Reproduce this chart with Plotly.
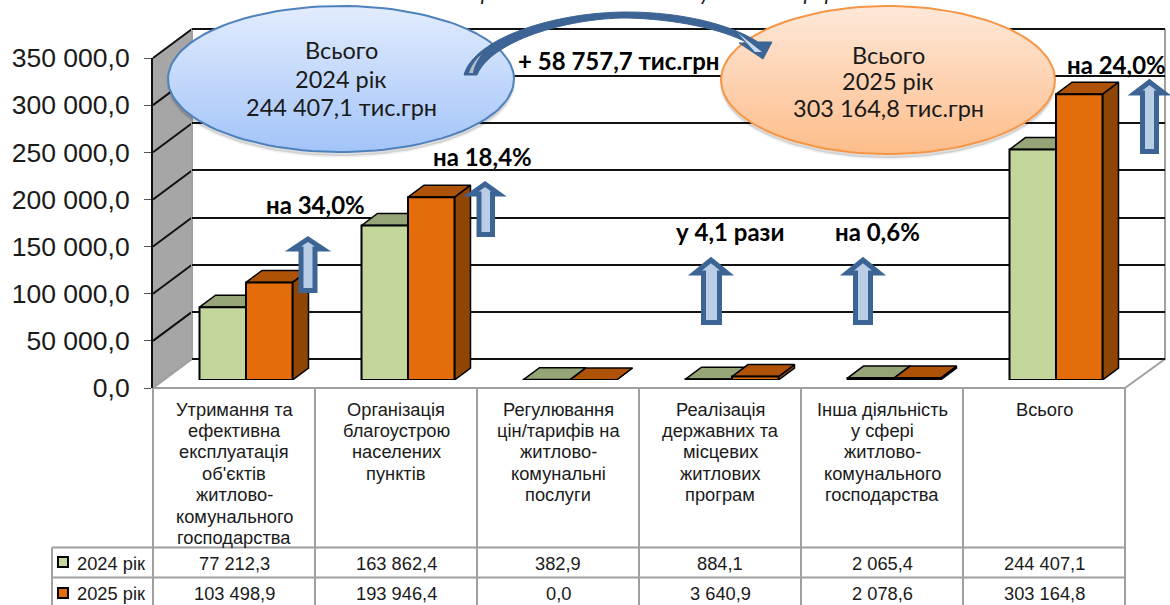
"""Spending by housing programme, 2024 vs 2025: pseudo-3D bars with data table."""

import numpy as np
import plotly.graph_objects as go

WIDTH = 1170
HEIGHT = 605

CATEGORY_LINES = [
    ["Утримання та", "ефективна", "експлуатація", "об'єктів", "житлово-", "комунального", "господарства"],
    ["Організація", "благоустрою", "населених", "пунктів"],
    ["Регулювання", "цін/тарифів на", "житлово-", "комунальні", "послуги"],
    ["Реалізація", "державних та", "місцевих", "житлових", "програм"],
    ["Інша діяльність", "у сфері", "житлово-", "комунального", "господарства"],
    ["Всього"],
]
SERIES_NAMES = ["2024 рік", "2025 рік"]
VALUES_2024 = [77212.3, 163862.4, 382.9, 884.1, 2065.4, 244407.1]
VALUES_2025 = [103498.9, 193946.4, 0.0, 3640.9, 2078.6, 303164.8]
TICK_VALUES = [0, 50000, 100000, 150000, 200000, 250000, 300000, 350000]
Y_MAX = 350000
GROWTH_LABELS = ["на 34,0%", "на 18,4%", "у 4,1 рази", "на 0,6%", "на 24,0%"]
CALLOUT_2024 = ["Всього", "2024 рік", "244 407,1 тис.грн"]
CALLOUT_2025 = ["Всього", "2025 рік", "303 164,8 тис.грн"]

SANS = "Liberation Sans"
CALIBRI_LIKE = "Lato, Open Sans, sans-serif"
BAR_W = 46.5 / 162  # in category units
DEPTH_X = 16 / 162
DEPTH_Y = 12 * Y_MAX / 330
GRID_PAD = 2 * Y_MAX / 330  # plotly drops gridlines within 1px of the axis ends
COL_X = [153, 315, 477, 639, 801, 963, 1125]


def fmt(v):
    return f"{v:,.1f}".replace(",", " ").replace(".", ",")


def x_dom(left, right):
    return [left / WIDTH, right / WIDTH]


def y_dom(bottom, top):
    return [1 - bottom / HEIGHT, 1 - top / HEIGHT]


def px(x, y, text, size=18.3, family=SANS, color="#1a1a1a", bold=False, xanchor="center", italic=False):
    if bold:
        text = f"<b>{text}</b>"
    if italic:
        text = f"<i>{text}</i>"
    return dict(
        x=x / WIDTH, y=1 - y / HEIGHT, xref="paper", yref="paper", text=text,
        showarrow=False, xanchor=xanchor, yanchor="middle",
        font=dict(size=size, family=family, color=color),
    )


def ellipse(cx, cy, rx, ry):
    t = np.linspace(0, 2 * np.pi, 120)
    return (cx + rx * np.cos(t)).tolist(), (cy + ry * np.sin(t)).tolist()


def block_arrow(left, right, shaft_l, shaft_r, tip, base, bottom):
    # outer extents come in; the 5px stroke is centred, so pull the path inwards
    mid = (left + right) / 2
    left, right = left + 5, right - 5
    shaft_l, shaft_r = shaft_l + 2.5, shaft_r - 2.5
    tip, base, bottom = tip + 7, base - 2, bottom - 2.5
    path = (
        f"M {mid},{tip} L {right},{base} L {shaft_r},{base} L {shaft_r},{bottom} "
        f"L {shaft_l},{bottom} L {shaft_l},{base} L {left},{base} Z"
    )
    return dict(
        type="path", path=path, xref="x6", yref="y6", layer="above",
        fillcolor="#b9cde5", line=dict(color="#3c6494", width=5),
    )


fig = go.Figure()

# ---- wall, floor and table lines, in page pixels ----
fig.add_trace(go.Scatter(
    x=[153, 192, 192, 153, 153], y=[388, 359, 29, 58, 388], mode="lines",
    fill="toself", fillcolor="#a6a6a6", line=dict(color="#a6a6a6", width=1),
    xaxis="x", yaxis="y", hoverinfo="skip",
))
slant_x, slant_y = [], []
for v in TICK_VALUES[1:]:
    y0 = 388 - v * 330 / Y_MAX
    slant_x += [153, 192, None]
    slant_y += [y0, y0 - 29, None]
fig.add_trace(go.Scatter(
    x=slant_x, y=slant_y, mode="lines", line=dict(color="#111111", width=2),
    xaxis="x", yaxis="y", hoverinfo="skip",
))
fig.add_trace(go.Scatter(
    x=[153, 192, None, 1125, 1165, 1165, None, 192, 192],
    y=[388, 359, None, 388, 359, 29, None, 359, 29], mode="lines",
    line=dict(color="#a0a0a0", width=2), xaxis="x", yaxis="y", hoverinfo="skip",
))
table_x, table_y = [], []
for col in COL_X:
    table_x += [col, col, None]
    table_y += [388, 605, None]
for left, row in [(153, 388), (52, 547.5), (52, 577.5)]:
    table_x += [left, 1125, None]
    table_y += [row, row, None]
table_x += [52, 52, None]
table_y += [547.5, 605, None]
fig.add_trace(go.Scatter(
    x=table_x, y=table_y, mode="lines", line=dict(color="#a0a0a0", width=2),
    xaxis="x", yaxis="y", hoverinfo="skip",
))

# ---- back wall gridlines and the value axis ----
fig.add_trace(go.Scatter(x=[], y=[], xaxis="x2", yaxis="y2"))
fig.add_trace(go.Scatter(x=[], y=[], xaxis="x3", yaxis="y3"))

# ---- side and top faces of the bars, then the fronts ----
positions = list(range(len(VALUES_2024)))
for values, offset, top_colour, side_colour in [
    (VALUES_2024, -BAR_W, "#95a578", "#7f8e62"),
    (VALUES_2025, 0.0, "#ad5207", "#8f4504"),
]:
    for i, v in zip(positions, values):
        x0, x1 = i + offset, i + offset + BAR_W
        fig.add_trace(go.Scatter(
            x=[x1, x1 + DEPTH_X, x1 + DEPTH_X, x1, x1],
            y=[0, DEPTH_Y, v + DEPTH_Y, v, 0],
            mode="lines", fill="toself", fillcolor=side_colour,
            line=dict(color="#000000", width=1.5),
            xaxis="x4", yaxis="y4", hoverinfo="skip",
        ))
        fig.add_trace(go.Scatter(
            x=[x0, x1, x1 + DEPTH_X, x0 + DEPTH_X, x0],
            y=[v, v, v + DEPTH_Y, v + DEPTH_Y, v],
            mode="lines", fill="toself", fillcolor=top_colour,
            line=dict(color="#000000", width=1.5),
            xaxis="x4", yaxis="y4", hoverinfo="skip",
        ))

for name, values, offset, colour in [
    (SERIES_NAMES[0], VALUES_2024, -BAR_W, "#c3d69b"),
    (SERIES_NAMES[1], VALUES_2025, 0.0, "#e46c0a"),
]:
    fig.add_trace(go.Bar(
        x=positions, y=values, name=name, width=BAR_W, offset=offset,
        marker=dict(color=colour, line=dict(color="#000000", width=2)),
        xaxis="x5", yaxis="y5",
    ))

# ---- the two callout ellipses ----
for cx, cy, rx, ry, stroke, top, bottom in [
    (341, 79, 173, 73, "#4f81bd", "#e2ecfd", "#a3c4f9"),
    (888, 80, 167, 74, "#f79646", "#fee8d9", "#fdbd8a"),
]:
    sx, sy = ellipse(cx, cy + 4, rx, ry)
    fig.add_trace(go.Scatter(
        x=sx, y=sy, mode="lines", fill="toself", fillcolor="rgba(0,0,0,0.13)",
        line=dict(color="rgba(0,0,0,0.06)", width=3), xaxis="x6", yaxis="y6", hoverinfo="skip",
    ))
    ex, ey = ellipse(cx, cy, rx, ry)
    fig.add_trace(go.Scatter(
        x=ex, y=ey, mode="lines", fill="toself",
        fillgradient=dict(type="vertical", colorscale=[[0, bottom], [1, top]]),
        line=dict(color=stroke, width=2), xaxis="x6", yaxis="y6", hoverinfo="skip",
    ))

shapes = [
    block_arrow(288, 328, 298.5, 317.5, 232, 251, 293),
    block_arrow(466, 504, 476.5, 495, 177, 196, 237),
    block_arrow(690, 732, 701, 722, 253, 275, 325),
    block_arrow(842, 884, 853, 873, 253, 275, 325),
    block_arrow(1130, 1169, 1140, 1159, 75, 95, 154),
    # curved arrow between the ellipses
    dict(
        type="path", xref="x6", yref="y6", layer="above",
        path=(
            "M 464,75 C 474,38 555,12 627,12 C 680,12 730,24 758,42 "
            "L 772,42 L 763,59 L 739,43 L 748,43 "
            "C 722,29 675,19 627,18 C 565,18 490,42 477,75 Z"
        ),
        fillcolor="#3c6494", line=dict(color="#3c6494", width=1),
    ),
    dict(
        type="path", xref="x6", yref="y6", layer="above",
        path="M 469,73 C 472,64 477,58 481,55 C 478,60 474,66 473,73 Z",
        fillcolor="#b4bcc8", line=dict(width=0),
    ),
    dict(
        type="path", xref="x6", yref="y6", layer="above",
        path="M 738,33 L 762,52 L 755,52 Z",
        fillcolor="#c6d9f0", line=dict(width=0),
    ),
    # legend keys of the data table
    dict(type="rect", xref="x6", yref="y6", layer="above", x0=58, x1=68, y0=557, y1=567,
         fillcolor="#c3d69b", line=dict(color="#000000", width=2)),
    dict(type="rect", xref="x6", yref="y6", layer="above", x0=58, x1=68, y0=588, y1=598,
         fillcolor="#e46c0a", line=dict(color="#000000", width=2)),
]

annotations = [
    px(588, -8, "Видатки за напрямами житлово-комунальної сфери", size=22,
       family=CALIBRI_LIKE, italic=True),
    px(619, 61, "+ 58 757,7 тис.грн", size=24, family=CALIBRI_LIKE, bold=True, color="#000000"),
]
for cx, rows, lines in [(341, [50, 79, 107], CALLOUT_2024), (888, [55, 81, 108], CALLOUT_2025)]:
    for y, line in zip(rows, lines):
        annotations.append(px(cx, y, line, size=23.5, family=CALIBRI_LIKE))
for (x, y), label in zip([(315, 204), (482, 156), (730, 231), (877, 231), (1116, 65)], GROWTH_LABELS):
    annotations.append(px(x, y, label, size=24, family=CALIBRI_LIKE, bold=True, color="#000000"))

for i, lines in enumerate(CATEGORY_LINES):
    centre = (COL_X[i] + COL_X[i + 1]) / 2
    for j, line in enumerate(lines):
        annotations.append(px(centre, 409 + j * 21.4, line))
    annotations.append(px(centre, 563, fmt(VALUES_2024[i])))
    annotations.append(px(centre, 593, fmt(VALUES_2025[i])))
annotations.append(px(75, 563, SERIES_NAMES[0], xanchor="left"))
annotations.append(px(75, 593, SERIES_NAMES[1], xanchor="left"))

hidden = dict(visible=False, fixedrange=True)
bar_x = dict(hidden, domain=x_dom(165, 1137), range=[-0.5, 5.5])
bar_y = dict(hidden, domain=y_dom(380, 50), range=[0, Y_MAX])
page_x = dict(hidden, domain=[0, 1], range=[0, WIDTH])
page_y = dict(hidden, domain=[0, 1], range=[HEIGHT, 0])

fig.update_layout(
    width=WIDTH,
    height=HEIGHT,
    margin=dict(l=0, r=0, t=0, b=0, autoexpand=False),
    paper_bgcolor="white",
    plot_bgcolor="rgba(0,0,0,0)",
    showlegend=False,
    barmode="overlay",
    xaxis=dict(page_x),
    yaxis=dict(page_y),
    xaxis2=dict(hidden, domain=x_dom(192, 1165), range=[0, 1], anchor="y2"),
    yaxis2=dict(
        domain=y_dom(361, 27), range=[-GRID_PAD, Y_MAX + GRID_PAD], anchor="x2", tickvals=TICK_VALUES,
        showticklabels=False, ticks="", showgrid=True, gridcolor="#111111", gridwidth=2,
        zeroline=False, fixedrange=True,
    ),
    xaxis3=dict(hidden, domain=x_dom(153, 1125), range=[0, 1], anchor="y3"),
    yaxis3=dict(
        domain=y_dom(388, 58), range=[0, Y_MAX], anchor="x3", tickvals=TICK_VALUES,
        ticktext=[fmt(v) for v in TICK_VALUES], ticks="outside", ticklen=7,
        tickcolor="#555555", tickwidth=1, ticklabelstandoff=9,
        tickfont=dict(size=26.5, family=SANS, color="#1a1a1a"),
        showline=True, linecolor="#111111", linewidth=2, showgrid=False, zeroline=False,
        fixedrange=True,
    ),
    xaxis4=dict(bar_x, anchor="y4"),
    yaxis4=dict(bar_y, anchor="x4"),
    xaxis5=dict(bar_x, anchor="y5"),
    yaxis5=dict(bar_y, anchor="x5"),
    xaxis6=dict(page_x, anchor="y6"),
    yaxis6=dict(page_y, anchor="x6"),
    shapes=shapes,
    annotations=annotations,
)

fig.write_html(
    "out.html",
    config=dict(displayModeBar=False),
    post_script="document.body.style.margin='0';document.body.style.overflow='hidden';",
)
